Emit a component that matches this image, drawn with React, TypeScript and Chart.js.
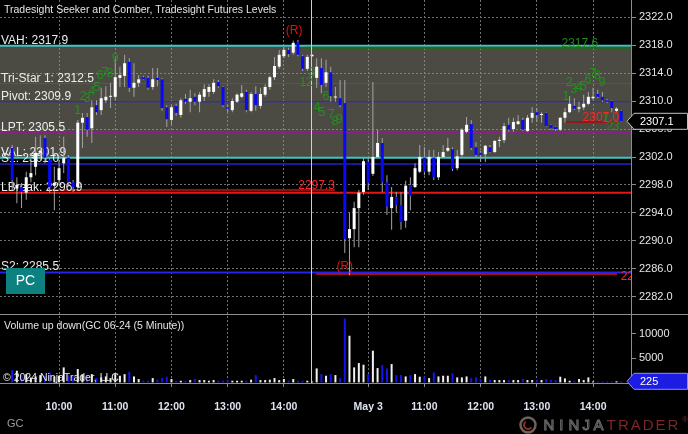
import React, { useEffect, useRef } from 'react';
import { Chart, registerables } from 'chart.js';

Chart.register(...registerables);

const FONT = '"Liberation Sans", Arial, Helvetica, sans-serif';

// 5-minute bar slots: day 1 09:00..14:30 (0..66), day 2 09:05..14:30 (67..132)
const OPEN: (number | null)[] = [
  null, null, 2303.3, 2297.5, 2297.7, 2296.9, 2299.1, 2300.6, 2302.6, 2304.7,
  2301.6, 2297.9, 2298.7, 2301.1, 2301.9, 2298.4, 2297.7, 2306.9, 2307.7, 2306.1,
  2309.4, 2308.7, 2310.1, 2310.6, 2310.6, 2313.3, 2313.6, 2315.6, 2311.9, 2312.6,
  2313.4, 2313.3, 2312.0, 2313.3, 2313.1, 2309.1, 2307.3, 2309.3, 2308.0, 2310.3,
  2309.9, 2310.6, 2309.9, 2310.6, 2311.3, 2311.3, 2312.7, 2312.0, 2309.1, 2308.7,
  2309.9, 2310.6, 2311.3, 2308.6, 2311.0, 2309.3, 2310.9, 2312.0, 2313.4, 2314.9,
  2316.4, 2317.3, 2316.9, 2318.4, 2316.4, 2314.6, 2316.4,
  2313.3, 2314.7, 2312.6,
  2314.1, 2310.5, 2310.4, 2309.7, 2290.4, 2291.7, 2294.7, 2297.0, 2301.3, 2299.6,
  2302.0, 2304.0, 2298.4, 2294.7, 2296.3, 2295.1, 2292.9, 2298.0, 2297.7, 2299.9,
  2301.9, 2299.9, 2301.9, 2299.1, 2302.0, 2302.9, 2303.1, 2300.4, 2302.3, 2305.6,
  2306.7, 2303.4, 2302.6, 2302.4, 2303.4, 2302.7, 2304.3, 2304.4, 2306.6, 2306.0,
  2306.7, 2307.3, 2305.7, 2307.6, 2308.4, 2308.0, 2308.3, 2306.6, 2306.3, 2305.9,
  2307.6, 2308.4, 2309.3, 2308.9, 2309.1, 2309.6, 2310.4, 2311.0, 2310.6, 2310.1,
  2310.0, 2308.6, 2308.6,
];
const HIGH: (number | null)[] = [
  null, null, 2303.7, 2299.1, 2298.3, 2299.9, 2302.5, 2304.9, 2305.1, 2305.1,
  2301.9, 2300.6, 2301.6, 2304.9, 2302.3, 2298.7, 2307.3, 2308.3, 2308.3, 2310.1,
  2310.1, 2311.9, 2312.1, 2312.6, 2316.1, 2314.9, 2316.6, 2316.1, 2315.4, 2313.7,
  2313.6, 2313.6, 2314.7, 2314.7, 2313.3, 2309.4, 2309.4, 2309.6, 2310.4, 2311.0,
  2311.6, 2311.1, 2311.3, 2312.4, 2312.4, 2313.1, 2313.0, 2312.1, 2309.4, 2310.4,
  2311.1, 2312.3, 2311.6, 2311.3, 2312.1, 2311.9, 2312.4, 2313.6, 2316.3, 2317.3,
  2317.7, 2317.6, 2318.6, 2318.7, 2316.6, 2316.6, 2316.7,
  2316.1, 2316.1, 2315.9,
  2314.9, 2312.0, 2313.0, 2313.0, 2294.0, 2295.6, 2297.3, 2302.0, 2302.0, 2312.7,
  2305.9, 2304.7, 2299.4, 2297.7, 2297.0, 2297.0, 2298.6, 2299.1, 2301.1, 2303.7,
  2303.4, 2303.0, 2303.0, 2302.7, 2303.7, 2304.7, 2303.4, 2303.0, 2306.1, 2307.7,
  2307.3, 2304.1, 2302.9, 2303.7, 2303.7, 2304.4, 2304.9, 2306.9, 2307.6, 2307.6,
  2308.0, 2307.6, 2308.0, 2309.1, 2309.0, 2308.4, 2308.4, 2306.7, 2306.4, 2307.7,
  2309.0, 2310.7, 2310.4, 2309.9, 2310.9, 2311.3, 2311.9, 2311.6, 2311.3, 2310.3,
  2310.1, 2309.1, 2308.7,
];
const LOW: (number | null)[] = [
  null, null, 2297.3, 2295.4, 2294.7, 2295.9, 2298.4, 2299.4, 2301.6, 2301.1,
  2296.9, 2294.4, 2298.0, 2299.7, 2298.0, 2297.0, 2297.3, 2303.3, 2304.9, 2304.0,
  2308.0, 2308.0, 2309.7, 2309.0, 2310.1, 2312.0, 2312.0, 2311.3, 2310.6, 2312.0,
  2313.0, 2311.6, 2311.6, 2312.1, 2308.6, 2306.3, 2306.6, 2307.9, 2307.6, 2309.6,
  2308.4, 2309.4, 2308.4, 2310.0, 2310.6, 2311.0, 2311.9, 2309.1, 2308.4, 2308.4,
  2309.7, 2310.4, 2308.4, 2308.4, 2308.6, 2308.9, 2310.6, 2311.6, 2313.0, 2314.6,
  2316.1, 2316.3, 2316.6, 2316.4, 2314.3, 2314.3, 2316.3,
  2311.9, 2311.1, 2312.0,
  2309.9, 2309.9, 2309.1, 2288.3, 2285.1, 2289.1, 2289.1, 2296.6, 2297.3, 2299.3,
  2301.9, 2297.0, 2293.7, 2291.6, 2294.1, 2291.6, 2291.9, 2294.4, 2297.6, 2299.7,
  2299.4, 2299.4, 2298.7, 2298.7, 2301.9, 2302.7, 2300.0, 2300.1, 2302.0, 2305.4,
  2303.0, 2302.0, 2301.3, 2301.3, 2302.6, 2302.6, 2303.4, 2304.0, 2305.6, 2305.6,
  2306.6, 2305.7, 2305.6, 2306.9, 2307.0, 2306.9, 2306.3, 2305.9, 2305.7, 2305.7,
  2306.9, 2308.3, 2308.7, 2308.4, 2308.7, 2309.4, 2310.1, 2310.4, 2309.9, 2309.7,
  2308.4, 2308.3, 2307.0,
];
const CLOSE: (number | null)[] = [
  null, null, 2298.7, 2298.0, 2297.0, 2299.1, 2299.7, 2302.6, 2302.9, 2301.9,
  2297.7, 2298.3, 2300.4, 2301.9, 2298.4, 2297.7, 2306.9, 2307.6, 2305.9, 2309.1,
  2308.4, 2310.4, 2310.6, 2310.7, 2313.4, 2313.7, 2315.4, 2311.9, 2312.6, 2313.1,
  2313.1, 2311.9, 2313.1, 2313.0, 2309.0, 2307.4, 2309.1, 2308.3, 2310.1, 2309.9,
  2310.4, 2309.9, 2310.9, 2311.7, 2312.0, 2312.6, 2312.1, 2309.4, 2308.9, 2310.0,
  2310.9, 2311.1, 2308.7, 2311.0, 2309.4, 2311.0, 2312.0, 2313.4, 2315.0, 2316.6,
  2317.3, 2316.7, 2318.3, 2316.6, 2314.6, 2316.3, 2316.6,
  2314.9, 2312.3, 2314.1,
  2310.7, 2310.6, 2309.4, 2290.3, 2291.7, 2294.7, 2296.9, 2301.4, 2298.3, 2302.0,
  2304.0, 2298.4, 2294.9, 2296.3, 2295.1, 2292.7, 2297.9, 2296.4, 2300.4, 2302.0,
  2299.9, 2302.0, 2299.1, 2302.0, 2302.7, 2303.3, 2300.3, 2302.1, 2305.9, 2306.6,
  2303.3, 2302.3, 2302.3, 2303.6, 2302.7, 2304.3, 2304.4, 2306.4, 2305.9, 2307.0,
  2307.1, 2305.9, 2307.6, 2308.3, 2308.0, 2308.1, 2306.4, 2306.1, 2306.0, 2307.6,
  2308.4, 2309.6, 2308.9, 2309.1, 2309.6, 2310.6, 2310.6, 2310.6, 2310.1, 2309.9,
  2309.0, 2308.9, 2307.1,
];
const VOLUME: (number | null)[] = [
  null, null, 2540, 2400, 1500, 1700, 1000, 1230, 1500, 1370,
  2060, 1230, 1370, 3090, 1500, 1230, 2750, 1700, 1370, 1700,
  890, 1030, 1230, 890, 1700, 1370, 1700, 2200, 1230, 690,
  340, 340, 890, 550, 890, 1170, 690, 340, 340, 340,
  480, 690, 480, 480, 340, 480, 340, 340, 480, 340,
  340, 340, 340, 550, 1500, 480, 480, 550, 890, 480,
  690, 340, 690, 340, 340, 340, 200,
  2880, 1710, 1370,
  1710, 1510, 890, 13170, 9600, 3090, 3980, 3640, 1710, 6520,
  2950, 3570, 2880, 3770, 1510, 1510, 1230, 1510, 1710, 1170,
  1230, 890, 2060, 1230, 1370, 1370, 1850, 1030, 1030, 1230,
  890, 1030, 690, 1230, 550, 480, 480, 480, 480, 480,
  480, 690, 480, 480, 480, 480, 690, 550, 480, 1170,
  820, 340, 340, 690, 480, 1030, 200, 200, 200, 200,
  200, 225, 225,
];

const LAST_PRICE = 2307.1;
const LAST_VOLUME = 225;

// x axis
const X_MIN = -0.6;
const X_MAX = 134.1;
const HOUR_TICKS = [12, 24, 36, 48, 60, 78, 90, 102, 114, 126];
const HOUR_LABELS = ['10:00', '11:00', '12:00', '13:00', '14:00', 'May 3', '11:00', '12:00', '13:00', '14:00'];
const SESSION_BREAK = 65.8;

// y axes
const PRICE_MIN = 2279.57;
const PRICE_MAX = 2324.43;
const PRICE_TICKS = [2282, 2286, 2290, 2294, 2298, 2302, 2306, 2310, 2314, 2318, 2322];
const VOL_MIN = -123;
const VOL_MAX = 14077;
const VOLUME_TICKS = [5000, 10000];

// Tradesight futures levels
const LEVEL_NAMES = ['VAH', 'Tri-Star 1', 'Pivot', 'LPT', 'VAL', 'S1', 'LBreak', 'S2'];
const LEVEL_VALUES = [2317.9, 2312.5, 2309.9, 2305.5, 2301.9, 2301.0, 2296.9, 2285.5];
const LEVEL_COLORS = ['#3cc6c6', '#1f7c1f', '#2a2ad4', '#8c1d8c', '#3cc6c6', '#2020cc', '#e41616', '#2323ea'];
const LEVEL_WIDTHS = [2, 1, 1.2, 2, 2, 1.5, 2, 2];
const VALUE_AREA = [2301.9, 2317.9];

// Seeker / Comber target lines
const TARGET_VALUES = [2297.3, 2285.3, 2307.0, 2317.6];
const TARGET_START = [9.4, 66.9, 120.0, 64.5];
const TARGET_END = [70.9, 131.1, 131.1, 134.1];
const TARGET_COLORS = ['#8e1010', '#a80e0e', '#8e1a1a', '#1d6d1d'];
const TARGET_TEXT_COLORS = ['#ff2424', '#ff2424', '#ff2424', '#1f8a1f'];
const TARGET_LABEL_AT = [70.9, 131.9, 131.6, 127.1];
const TARGET_LABEL_ALIGN: CanvasTextAlign[] = ['right', 'left', 'right', 'right'];

// TD setup counts
const TD_TEXT = ['1', '2', '3', '4', '5', '6', '7', '8', '9', '1', '2', '3', '4', '5', '6', '7', '8', '9', '1', '2', '3', '4', '5', '6', '7', '8', '9', '1', '2', '3'];
const TD_INDEX = [16, 17.1, 18, 19, 20.1, 20.8, 21.8, 22.9, 24, 64.1, 65.4, 66, 67.1, 68.1, 69, 70.1, 70.9, 71.8, 120.2, 120.9, 121.9, 123, 123.9, 124.9, 126, 126.9, 127.9, 128.7, 129.6, 130.9];
const TD_PRICE = [2308.7, 2310.7, 2310.3, 2311.3, 2311.9, 2313.7, 2314.0, 2313.9, 2316.0, 2312.6, 2312.6, 2314.0, 2309.1, 2308.3, 2310.6, 2308.0, 2307.1, 2307.3, 2310.6, 2312.7, 2311.7, 2311.9, 2312.1, 2313.0, 2313.9, 2313.6, 2312.7, 2307.5, 2306.3, 2306.3];

// reversal markers
const R_INDEX = [62.2, 73.0];
const R_PRICE = [2320.0, 2286.3];

const SLOTS = OPEN.map((_, i) => i).filter((i) => OPEN[i] !== null);
const isUp = (i: number) => (CLOSE[i] as number) >= (OPEN[i] as number);

const VOLUME_DS = 13;

const overlayPlugin = {
  id: 'ntOverlay',
  beforeDraw(chart: any) {
    const { ctx, width, height } = chart;
    ctx.save();
    ctx.fillStyle = '#000';
    ctx.fillRect(0, 0, width, height);
    ctx.restore();
  },
  beforeDatasetDraw(chart: any, args: any) {
    if (args.index !== VOLUME_DS) return;
    const { ctx, chartArea } = chart;
    const y = chart.scales.y;
    ctx.save();
    ctx.beginPath();
    ctx.rect(chartArea.left, chartArea.top, chartArea.width, chartArea.height);
    ctx.clip();
    ctx.font = `12px ${FONT}`;
    ctx.fillStyle = '#ececec';
    ctx.textAlign = 'left';
    ctx.textBaseline = 'alphabetic';
    LEVEL_NAMES.forEach((n, k) => {
      ctx.fillText(`${n}: ${LEVEL_VALUES[k].toFixed(1)}`, 1, y.getPixelForValue(LEVEL_VALUES[k]) - 2);
    });
    ctx.restore();
  },
  afterDatasetsDraw(chart: any) {
    const { ctx, chartArea } = chart;
    const x = chart.scales.x;
    const y = chart.scales.y;
    ctx.save();
    ctx.beginPath();
    ctx.rect(chartArea.left, chartArea.top, chartArea.width, chartArea.height);
    ctx.clip();
    // session break
    const sx = Math.round(x.getPixelForValue(SESSION_BREAK)) + 0.5;
    ctx.strokeStyle = '#cfcfcf';
    ctx.lineWidth = 1;
    ctx.beginPath();
    ctx.moveTo(sx, chartArea.top);
    ctx.lineTo(sx, chartArea.bottom);
    ctx.stroke();
    // target labels
    ctx.font = `12px ${FONT}`;
    ctx.textBaseline = 'alphabetic';
    TARGET_VALUES.forEach((v, k) => {
      ctx.fillStyle = TARGET_TEXT_COLORS[k];
      ctx.textAlign = TARGET_LABEL_ALIGN[k];
      const dy = TARGET_LABEL_ALIGN[k] === 'left' ? 6 : -1;
      ctx.fillText(v.toFixed(1), x.getPixelForValue(TARGET_LABEL_AT[k]), y.getPixelForValue(v) + dy);
    });
    // TD counts
    ctx.font = `12.5px ${FONT}`;
    ctx.fillStyle = '#23901f';
    ctx.textAlign = 'center';
    ctx.textBaseline = 'middle';
    TD_TEXT.forEach((t, k) => {
      ctx.fillText(t, x.getPixelForValue(TD_INDEX[k]), y.getPixelForValue(TD_PRICE[k]));
    });
    // reversal markers
    ctx.font = `12px ${FONT}`;
    ctx.fillStyle = '#e41010';
    R_INDEX.forEach((r, k) => {
      ctx.fillText('(R)', x.getPixelForValue(r), y.getPixelForValue(R_PRICE[k]));
    });
    ctx.restore();
  },
  afterDraw(chart: any) {
    const { ctx, chartArea, width } = chart;
    const y = chart.scales.y;
    const v = chart.scales.yv;
    const priceBottom = y.bottom;
    ctx.save();
    // panel borders
    ctx.strokeStyle = '#8c8c8c';
    ctx.lineWidth = 1;
    ctx.beginPath();
    ctx.moveTo(0, Math.round(priceBottom) + 0.5);
    ctx.lineTo(width, Math.round(priceBottom) + 0.5);
    ctx.moveTo(0, Math.round(chartArea.bottom) + 0.5);
    ctx.lineTo(chartArea.right, Math.round(chartArea.bottom) + 0.5);
    ctx.moveTo(Math.round(chartArea.right) + 0.5, 0);
    ctx.lineTo(Math.round(chartArea.right) + 0.5, chartArea.bottom);
    ctx.stroke();

    // titles
    ctx.textAlign = 'left';
    ctx.textBaseline = 'middle';
    ctx.font = `10.5px ${FONT}`;
    ctx.fillStyle = '#e4e4e4';
    ctx.fillText('Tradesight Seeker and Comber, Tradesight Futures Levels', 4, 10);
    ctx.fillText('Volume up down(GC 06-24 (5 Minute))', 4, priceBottom + 12);
    ctx.fillText('\u00a9 2024 NinjaTrader, LLC', 3, chartArea.bottom - 5);
    ctx.fillStyle = '#9c9c9c';
    ctx.font = `11px ${FONT}`;
    ctx.fillText('GC', 7, 424);

    // PC button
    ctx.fillStyle = '#0d8080';
    ctx.fillRect(6, 268, 39, 26);
    ctx.fillStyle = '#ffffff';
    ctx.font = `14px ${FONT}`;
    ctx.textAlign = 'center';
    ctx.fillText('PC', 25.5, 281.5);

    // current price / volume markers
    const drawMarker = (yy: number, fill: string, stroke: string, label: string) => {
      ctx.beginPath();
      ctx.moveTo(627, yy);
      ctx.lineTo(634, yy - 8);
      ctx.lineTo(687.5, yy - 8);
      ctx.lineTo(687.5, yy + 8);
      ctx.lineTo(634, yy + 8);
      ctx.closePath();
      ctx.fillStyle = fill;
      ctx.fill();
      ctx.strokeStyle = stroke;
      ctx.lineWidth = 1;
      ctx.stroke();
      ctx.fillStyle = '#ffffff';
      ctx.font = `11px ${FONT}`;
      ctx.textAlign = 'left';
      ctx.textBaseline = 'middle';
      ctx.fillText(label, 640, yy + 0.5);
    };
    drawMarker(y.getPixelForValue(LAST_PRICE), '#000000', '#c4c4c4', LAST_PRICE.toFixed(1));
    drawMarker(v.getPixelForValue(LAST_VOLUME), '#1c1ce2', '#8c8cff', String(LAST_VOLUME));

    // NinjaTrader logo
    ctx.beginPath();
    ctx.arc(528, 425, 7.5, 0, Math.PI * 2);
    ctx.strokeStyle = '#6d6258';
    ctx.lineWidth = 2.5;
    ctx.stroke();
    ctx.beginPath();
    ctx.arc(528, 425, 4, Math.PI * 0.2, Math.PI * 1.3);
    ctx.strokeStyle = '#8e2a22';
    ctx.lineWidth = 2;
    ctx.stroke();
    ctx.font = `15px ${FONT}`;
    ctx.textAlign = 'center';
    ctx.textBaseline = 'middle';
    const letters = 'NINJATRADER';
    for (let k = 0; k < letters.length; k++) {
      const lx = 549 + k * 12.4;
      if (k < 5) {
        ctx.strokeStyle = '#6c6c6c';
        ctx.lineWidth = 1;
        ctx.strokeText(letters[k], lx, 426);
      } else {
        ctx.fillStyle = '#7e2424';
        ctx.fillText(letters[k], lx, 426);
      }
    }
    ctx.font = `8px ${FONT}`;
    ctx.fillStyle = '#7e2424';
    ctx.textAlign = 'left';
    ctx.fillText('\u00ae', 682, 420);
    ctx.restore();
  },
};

const zeroPad = (s: any) => {
  s.paddingTop = 0;
  s.paddingBottom = 0;
  s.paddingLeft = 0;
  s.paddingRight = 0;
};

function buildConfig(): any {
  const lineDs = (value: number, from: number, to: number, color: string, w: number, order: number) => ({
    type: 'line',
    data: [{ x: from, y: value }, { x: to, y: value }],
    borderColor: color,
    borderWidth: w,
    pointRadius: 0,
    fill: false,
    order,
    xAxisID: 'x',
    yAxisID: 'y',
  });

  const datasets: any[] = [];
  // 0: value area band
  datasets.push({
    type: 'line',
    data: [{ x: X_MIN, y: VALUE_AREA[1] }, { x: X_MAX, y: VALUE_AREA[1] }],
    borderWidth: 0,
    pointRadius: 0,
    backgroundColor: 'rgba(150,148,134,0.5)',
    fill: { value: VALUE_AREA[0] },
    order: 100,
    xAxisID: 'x',
    yAxisID: 'y',
  });
  // 1..8: levels
  LEVEL_VALUES.forEach((lv, k) => datasets.push(lineDs(lv, X_MIN, X_MAX, LEVEL_COLORS[k], LEVEL_WIDTHS[k], 60)));
  // 9..12: targets
  TARGET_VALUES.forEach((tv, k) => datasets.push(lineDs(tv, TARGET_START[k], TARGET_END[k], TARGET_COLORS[k], 2, 55)));
  // 13: volume
  datasets.push({
    type: 'bar',
    data: SLOTS.map((i) => ({ x: i, y: VOLUME[i] })),
    backgroundColor: SLOTS.map((i) => (isUp(i) ? '#f2f2f2' : '#1414f0')),
    barThickness: 2,
    grouped: false,
    inflateAmount: 0,
    order: 40,
    xAxisID: 'x',
    yAxisID: 'yv',
  });
  // 14: wicks
  datasets.push({
    type: 'bar',
    data: SLOTS.map((i) => ({ x: i, y: [LOW[i], HIGH[i]] })),
    backgroundColor: '#a4a4a4',
    barThickness: 1,
    grouped: false,
    inflateAmount: 0,
    order: 30,
    xAxisID: 'x',
    yAxisID: 'y',
  });
  // 15: bodies
  datasets.push({
    type: 'bar',
    data: SLOTS.map((i) => ({
      x: i,
      y: [Math.min(OPEN[i] as number, CLOSE[i] as number), Math.max(OPEN[i] as number, CLOSE[i] as number)],
    })),
    backgroundColor: SLOTS.map((i) => (isUp(i) ? '#ffffff' : '#0808ff')),
    barThickness: 3,
    minBarLength: 1,
    grouped: false,
    inflateAmount: 0,
    order: 20,
    xAxisID: 'x',
    yAxisID: 'y',
  });

  return {
    type: 'bar',
    data: { datasets },
    plugins: [overlayPlugin],
    options: {
      responsive: false,
      maintainAspectRatio: false,
      devicePixelRatio: 1,
      animation: false,
      events: [],
      layout: { padding: 0 },
      plugins: { legend: { display: false }, tooltip: { enabled: false } },
      scales: {
        x: {
          type: 'linear',
          position: 'bottom',
          min: X_MIN,
          max: X_MAX,
          offset: false,
          afterBuildTicks: (s: any) => {
            s.ticks = HOUR_TICKS.map((t) => ({ value: t }));
          },
          afterFit: (s: any) => {
            s.height = 51;
            zeroPad(s);
          },
          grid: {
            offset: false,
            color: '#707070',
            lineWidth: 1,
            tickLength: 4,
            tickColor: '#8c8c8c',
            drawTicks: true,
          },
          border: { display: false, dash: [2, 2] },
          ticks: {
            autoSkip: false,
            maxRotation: 0,
            padding: 14,
            color: '#dde3ee',
            font: { family: FONT, size: 10.5, weight: 'bold' },
            callback: (val: any) => {
              const k = HOUR_TICKS.indexOf(Number(val));
              return k >= 0 ? HOUR_LABELS[k] : '';
            },
          },
        },
        y: {
          type: 'linear',
          position: 'right',
          stack: 'panels',
          stackWeight: 314,
          min: PRICE_MIN,
          max: PRICE_MAX,
          afterBuildTicks: (s: any) => {
            s.ticks = PRICE_TICKS.map((t) => ({ value: t }));
          },
          afterFit: (s: any) => {
            s.width = 57;
            zeroPad(s);
          },
          grid: {
            color: '#707070',
            tickLength: 5,
            tickColor: '#8c8c8c',
          },
          border: { display: false, dash: [2, 2] },
          ticks: {
            padding: 3,
            color: '#e6e6e6',
            font: { family: FONT, size: 11 },
            callback: (val: any) => Number(val).toFixed(1),
          },
        },
        yv: {
          type: 'linear',
          position: 'right',
          stack: 'panels',
          stackWeight: 69,
          min: VOL_MIN,
          max: VOL_MAX,
          afterBuildTicks: (s: any) => {
            s.ticks = VOLUME_TICKS.map((t) => ({ value: t }));
          },
          afterFit: (s: any) => {
            s.width = 57;
            zeroPad(s);
          },
          grid: {
            drawOnChartArea: false,
            tickLength: 5,
            tickColor: '#8c8c8c',
          },
          border: { display: false },
          ticks: {
            padding: 3,
            color: '#e6e6e6',
            font: { family: FONT, size: 11 },
            callback: (val: any) => String(val),
          },
        },
      },
    },
  };
}

export default function App() {
  const ref = useRef<HTMLCanvasElement>(null);
  useEffect(() => {
    document.body.style.margin = '0';
    document.body.style.background = '#000';
    const chart = new Chart(ref.current as HTMLCanvasElement, buildConfig());
    return () => chart.destroy();
  }, []);
  return (
    <div style={{ width: 688, height: 434, background: '#000' }}>
      <canvas ref={ref} width={688} height={434} style={{ display: 'block', width: 688, height: 434 }} />
    </div>
  );
}
